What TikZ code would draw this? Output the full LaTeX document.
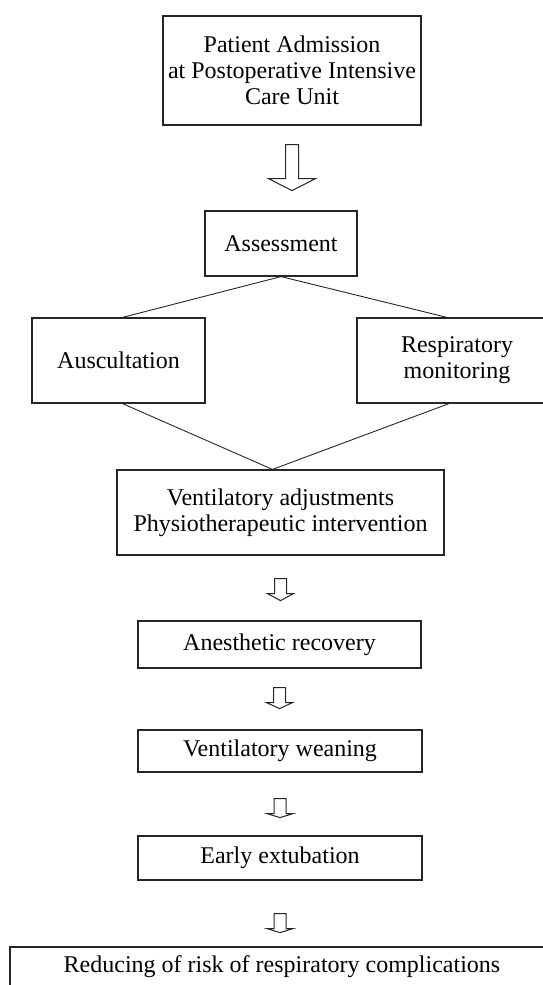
\documentclass[tikz,border=0pt]{standalone}
\usepackage{fontspec}
\setmainfont{Liberation Serif}
\usetikzlibrary{calc}

\begin{document}
\begin{tikzpicture}[x=1pt, y=-1pt,
    box/.style={rectangle, draw=black!85, line width=1.2pt, align=center, inner sep=0pt, font=\fontsize{24}{26}\selectfont},
    link/.style={draw=black!85, line width=0.9pt},
    pics/hollowdown/.style n args={4}{code={
        \draw[line width=1pt, draw=black!85] (-#1,0) -- (-#1,#3) -- (-#2,#3) -- (0,#4) -- (#2,#3) -- (#1,#3) -- (#1,0) -- cycle;}}
]
\useasboundingbox (0,0) rectangle (542,985);

% Admission
\node[box, minimum width=258, minimum height=109] (admission) at (292,70.5) {Patient Admission\\at Postoperative Intensive\\Care Unit};

% Assessment layer
\node[box, minimum width=152, minimum height=65] (assessment) at (281,243.5) {Assessment};
\node[box, minimum width=173, minimum height=85] (auscultation) at (118.5,360.5) {Auscultation};
\node[box, minimum width=200, minimum height=85] (monitoring) at (457,360.5) {Respiratory\\monitoring};

% Intervention layer
\node[box, minimum width=327, minimum height=85] (adjust) at (280.5,512.5) {Ventilatory adjustments\\Physiotherapeutic intervention};
\node[box, minimum width=283, minimum height=47] (recovery) at (279.5,644.5) {Anesthetic recovery};
\node[box, minimum width=284, minimum height=42] (weaning) at (280,751) {Ventilatory weaning};
\node[box, minimum width=284, minimum height=44] (extubation) at (280,858) {Early extubation};
\node[box, minimum width=544, minimum height=39] (risk) at (282,966.5) {Reducing of risk of respiratory complications};

% Links
\draw[link] (assessment.south) -- ([xshift=4pt]auscultation.north);
\draw[link] (assessment.south) -- ([xshift=-10pt]monitoring.north);
\draw[link] ([xshift=4pt]auscultation.south) -- ([xshift=-8pt]adjust.north);
\draw[link] ([xshift=-8pt]monitoring.south) -- ([xshift=-8pt]adjust.north);

% Hollow arrows
\pic at ($(admission.south)+(0,19)$) {hollowdown={6.5}{23.5}{34}{46}};
\pic at ($(adjust.south)+(0,23)$) {hollowdown={6}{13}{15}{22}};
\pic at ($(recovery.south)+(0,19)$) {hollowdown={6}{13}{15}{21}};
\pic at ($(weaning.south)+(0,26)$) {hollowdown={6}{13}{15}{19}};
\pic at ($(extubation.south)+(0,33)$) {hollowdown={6}{13}{15}{19}};

\end{tikzpicture}
\end{document}
